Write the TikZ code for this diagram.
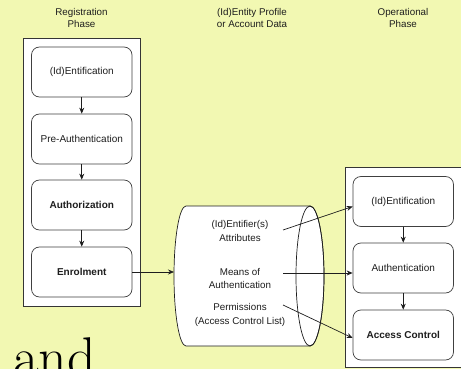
\documentclass[tikz,border=0pt]{standalone}
\usepackage{fontspec}
\setsansfont{Liberation Sans}
\usetikzlibrary{arrows.meta}
\definecolor{paper}{RGB}{242,248,178}
\definecolor{ink}{RGB}{30,30,30}
\begin{document}
\begin{tikzpicture}[x=1pt,y=-1pt,
  stagebox/.style={draw=ink!85, line width=0.7pt, rounded corners=8pt, fill=white,
    minimum width=100.5pt, minimum height=50pt, inner sep=0pt,
    font=\sffamily\fontsize{10}{11}\selectfont, text=ink},
  panel/.style={draw=ink!90, line width=0.8pt, fill=white},
  link/.style={-{Stealth[length=6pt,width=5pt]}, draw=ink, line width=0.7pt},
  heading/.style={align=center, font=\sffamily\fontsize{9.8}{12}\selectfont, text=ink},
  datalabel/.style={align=center, font=\sffamily\fontsize{9.8}{13.5}\selectfont, text=ink}
]
\useasboundingbox (0,0) rectangle (461,369);
\fill[paper] (0,0) rectangle (461,369);
\clip (0,0) rectangle (461,369);

% column headings
\node[heading] (hreg) at (81.5,18) {Registration\\Phase};
\node[heading] (hdata) at (252,18) {(Id)Entity Profile\\or Account Data};
\node[heading] (hop) at (403,18) {Operational\\Phase};

% registration phase
\draw[panel] (23,38) rectangle (140.5,306);
\node[stagebox] (r1) at (81.75,72) {(Id)Entification};
\node[stagebox] (r2) at (81.75,139) {Pre-Authentication};
\node[stagebox] (r3) at (81.75,205) {\bfseries Authorization};
\node[stagebox] (r4) at (81.75,272) {\bfseries Enrolment};
\draw[link] (r1) -- (r2);
\draw[link] (r2) -- (r3);
\draw[link] (r3) -- (r4);

% operational phase
\draw[panel] (345,167) rectangle (470,367);
\node[stagebox] (o1) at (403.25,201.5) {(Id)Entification};
\node[stagebox] (o2) at (403.25,268) {Authentication};
\node[stagebox] (o3) at (403.25,335) {\bfseries Access Control};
\draw[link] (o1) -- (o2);
\draw[link] (o2) -- (o3);

% account data store
\draw[draw=ink, line width=0.7pt, fill=white]
  (186,206) -- (310,206)
  arc[start angle=-90, end angle=90, x radius=14, y radius=70]
  -- (186,346)
  arc[start angle=90, end angle=270, x radius=12, y radius=70] -- cycle;
\draw[draw=ink, line width=0.7pt] (310,276) ellipse[x radius=14, y radius=70];
\coordinate (store) at (174,272);

\node[datalabel] (d1) at (240,231) {(Id)Entifier(s)\\Attributes};
\node[datalabel] (d2) at (240,278.5) {Means of\\Authentication};
\node[datalabel] (d3) at (240,315) {Permissions\\(Access Control List)};

\coordinate (s1) at (283,230);
\coordinate (s2) at (283,273);
\coordinate (s3) at (283,305);

\draw[link] (r4) -- (store);
\draw[link] (s1) -- ([yshift=-5pt]o1.west);
\draw[link] (s2) -- ([yshift=-5pt]o2.west);
\draw[link] (s3) -- ([yshift=-3pt]o3.west);

% large word running off the lower edge
\node[anchor=base west, inner sep=0pt, font=\rmfamily\fontsize{56}{60}\selectfont, text=black] (word) at (13,376) {and};
\end{tikzpicture}
\end{document}
